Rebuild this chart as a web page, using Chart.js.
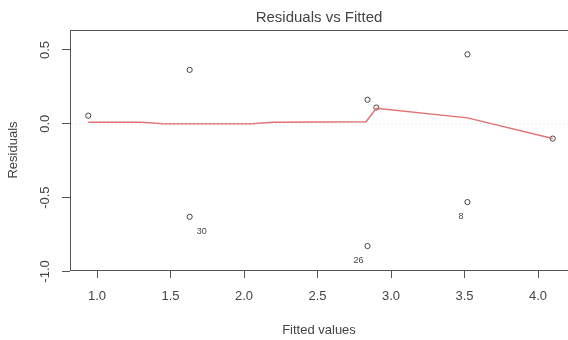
<!DOCTYPE html>
<html>
<head>
<meta charset="utf-8">
<script src="https://cdn.jsdelivr.net/npm/chart.js@4"></script>
<style>
  html, body { margin: 0; padding: 0; background: #fff; }
  #wrap { width: 568px; height: 340px; }
</style>
</head>
<body>
<div id="wrap"><canvas id="chart" width="568" height="340"></canvas></div>
<script>
// residuals vs fitted values
const fittedValues = [0.94, 1.63, 1.63, 2.84, 2.84, 2.90, 3.52, 3.52, 4.10];
const residuals = [0.055, 0.365, -0.63, 0.163, -0.828, 0.11, 0.47, -0.53, -0.10];
const pointIds = ["", "", "30", "", "26", "", "", "8", ""];

// smoother through the residuals
const smoothX = [0.94, 1.30, 1.45, 2.05, 2.20, 2.83, 2.90, 3.52, 4.10];
const smoothY = [0.01, 0.01, 0.0, 0.0, 0.01, 0.014, 0.105, 0.04, -0.10];

const xTicks = [1.0, 1.5, 2.0, 2.5, 3.0, 3.5, 4.0];
const yTicks = [-1.0, -0.5, 0.0, 0.5];

const axisColor = "#555";
const textColor = "#444";

function toPoints(xs, ys) {
  return xs.map((x, i) => ({ x, y: ys[i] }));
}

const topLine = {
  id: "topLine",
  afterDraw(chart) {
    const { ctx, chartArea } = chart;
    ctx.save();
    ctx.strokeStyle = axisColor;
    ctx.lineWidth = 1;
    ctx.beginPath();
    ctx.moveTo(chartArea.left, chartArea.top + 0.5);
    ctx.lineTo(chartArea.right, chartArea.top + 0.5);
    ctx.stroke();
    ctx.restore();
  },
};

const idLabels = {
  id: "idLabels",
  afterDatasetsDraw(chart) {
    const { ctx, scales } = chart;
    const meanX = fittedValues.reduce((a, b) => a + b, 0) / fittedValues.length;
    ctx.save();
    ctx.fillStyle = textColor;
    ctx.font = "9px 'Liberation Sans', Arial, sans-serif";
    ctx.textBaseline = "middle";
    pointIds.forEach((id, i) => {
      if (!id) return;
      const px = scales.x.getPixelForValue(fittedValues[i]);
      const py = scales.y.getPixelForValue(residuals[i]);
      if (fittedValues[i] < meanX) {
        ctx.textAlign = "left";
        ctx.fillText(id, px + 7, py + 15);
      } else {
        ctx.textAlign = "right";
        ctx.fillText(id, px - 4, py + 14);
      }
    });
    ctx.restore();
  },
};

const font = { family: "'Liberation Sans', Arial, sans-serif", size: 13 };

new Chart(document.getElementById("chart"), {
  type: "scatter",
  data: {
    datasets: [
      {
        label: "zero",
        type: "line",
        data: toPoints([0.5, 4.5], [0, 0]),
        borderColor: "#d8d8d8",
        borderWidth: 1,
        borderDash: [1, 3],
        pointRadius: 0,
      },
      {
        label: "smooth",
        type: "line",
        data: toPoints(smoothX, smoothY),
        borderColor: "#e07272",
        borderWidth: 1.5,
        pointRadius: 0,
        tension: 0,
      },
      {
        label: "residuals",
        data: toPoints(fittedValues, residuals),
        pointStyle: "circle",
        pointRadius: 2.6,
        borderWidth: 1,
        borderColor: "#444",
        backgroundColor: "rgba(0,0,0,0)",
      },
    ],
  },
  options: {
    responsive: false,
    animation: false,
    layout: { padding: 0, autoPadding: false },
    plugins: {
      legend: { display: false },
      tooltip: { enabled: false },
      title: {
        display: true,
        text: "Residuals vs Fitted",
        fullSize: false,
        color: textColor,
        font: { family: font.family, size: 15, weight: "normal", lineHeight: 1.2 },
        padding: { top: 9, bottom: 3 },
      },
    },
    scales: {
      x: {
        type: "linear",
        min: 0.816,
        max: 4.204,
        afterBuildTicks: (scale) => {
          scale.ticks = xTicks.map((value) => ({ value }));
        },
        afterFit: (scale) => {
          scale.height = 70;
        },
        grid: {
          drawOnChartArea: false,
          drawTicks: true,
          tickLength: 8,
          color: axisColor,
        },
        border: { display: true, color: axisColor, width: 1 },
        ticks: {
          color: textColor,
          font,
          padding: 11,
          maxRotation: 0,
          callback: (v) => Number(v).toFixed(1),
        },
        title: {
          display: true,
          text: "Fitted values",
          color: textColor,
          font,
          padding: { top: 0, bottom: 2 },
        },
      },
      y: {
        type: "linear",
        min: -0.99,
        max: 0.635,
        afterBuildTicks: (scale) => {
          scale.ticks = yTicks.map((value) => ({ value }));
        },
        afterFit: (scale) => {
          scale.width = 70;
        },
        grid: {
          drawOnChartArea: false,
          drawTicks: true,
          tickLength: 8,
          color: axisColor,
        },
        border: { display: true, color: axisColor, width: 1 },
        ticks: {
          color: textColor,
          font,
          padding: 5,
          minRotation: 90,
          maxRotation: 90,
          crossAlign: "center",
          callback: (v) => Number(v).toFixed(1),
        },
        title: {
          display: true,
          text: "Residuals",
          color: textColor,
          font,
          padding: { top: 6, bottom: 0 },
        },
      },
    },
  },
  plugins: [topLine, idLabels],
});
</script>
</body>
</html>
